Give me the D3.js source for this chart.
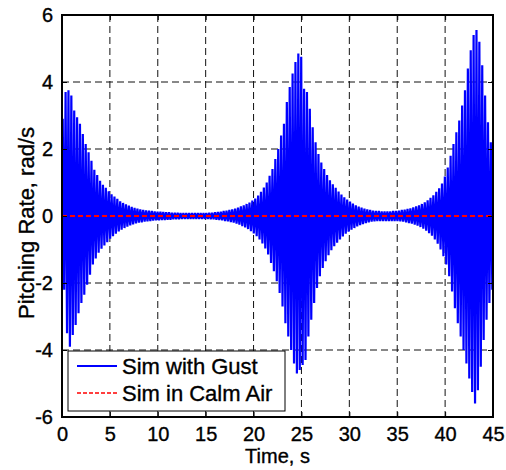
<!DOCTYPE html>
<html>
<head>
<meta charset="utf-8">
<script src="https://cdn.jsdelivr.net/npm/d3@7"></script>
<style>
  html, body { margin: 0; padding: 0; background: #fff; }
  svg { display: block; font-family: "Liberation Sans", Arial, sans-serif; }
  svg text { stroke: #000; stroke-width: 0.35px; }
</style>
</head>
<body>
<div id="chart"></div>
<script>
// ---------- Data ----------
const xTicks = [0, 5, 10, 15, 20, 25, 30, 35, 40, 45];
const yTicks = [-6, -4, -2, 0, 2, 4, 6];

// oscillation: one crest and one trough per cycle
const period = 0.3;          // s
const crestOffset = 0.075;   // s, within each cycle
const troughOffset = 0.225;  // s

const gustCrests = [
  2.9, 3.7, 3.75, 3.6, 3.15, 2.95, 2.75, 2.45, 2.15, 1.9,
  1.65, 1.38, 1.22, 1.05, 0.93, 0.84, 0.74, 0.65, 0.58, 0.51,
  0.44, 0.39, 0.35, 0.31, 0.27, 0.24, 0.22, 0.2, 0.18, 0.17,
  0.16, 0.15, 0.14, 0.13, 0.13, 0.12, 0.11, 0.11, 0.1, 0.1,
  0.1, 0.09, 0.09, 0.09, 0.09, 0.09, 0.09, 0.09, 0.09, 0.09,
  0.09, 0.1, 0.1, 0.11, 0.12, 0.13, 0.15, 0.16, 0.18, 0.2,
  0.22, 0.25, 0.29, 0.32, 0.36, 0.4, 0.46, 0.52, 0.61, 0.72,
  0.85, 1.0, 1.2, 1.4, 1.7, 2.0, 2.4, 2.75, 3.4, 3.85,
  4.25, 4.6, 4.85, 4.75, 3.8, 3.7, 3.2, 2.65, 2.2, 1.85,
  1.6, 1.4, 1.22, 1.07, 0.95, 0.84, 0.73, 0.64, 0.56, 0.49,
  0.43, 0.37, 0.32, 0.28, 0.25, 0.22, 0.2, 0.18, 0.16, 0.15,
  0.15, 0.14, 0.14, 0.14, 0.14, 0.15, 0.15, 0.16, 0.18, 0.19,
  0.21, 0.23, 0.26, 0.29, 0.32, 0.36, 0.41, 0.47, 0.54, 0.62,
  0.72, 0.83, 0.97, 1.18, 1.45, 1.8, 2.15, 2.5, 2.85, 3.3,
  3.75, 4.4, 4.95, 5.4, 5.55, 5.2, 4.5, 3.6, 2.8, 2.2,
  1.6
];

const gustTroughs = [
  -2.2, -3.5, -3.9, -3.55, -3.25, -2.9, -2.6, -2.35, -2.05, -1.75,
  -1.45, -1.27, -1.1, -0.98, -0.88, -0.78, -0.68, -0.6, -0.53, -0.46,
  -0.41, -0.36, -0.32, -0.28, -0.25, -0.22, -0.2, -0.19, -0.17, -0.16,
  -0.15, -0.14, -0.13, -0.13, -0.12, -0.12, -0.11, -0.11, -0.1, -0.1,
  -0.1, -0.09, -0.09, -0.09, -0.09, -0.09, -0.09, -0.09, -0.09, -0.09,
  -0.09, -0.1, -0.1, -0.11, -0.12, -0.13, -0.15, -0.16, -0.18, -0.2,
  -0.23, -0.26, -0.3, -0.34, -0.39, -0.45, -0.52, -0.6, -0.7, -0.82,
  -0.97, -1.15, -1.4, -1.65, -1.95, -2.3, -2.7, -3.2, -3.6, -4.0,
  -4.4, -4.7, -4.6, -4.45, -4.3, -3.6, -3.1, -2.6, -2.15, -1.8,
  -1.55, -1.35, -1.17, -1.02, -0.9, -0.8, -0.7, -0.61, -0.53, -0.47,
  -0.41, -0.36, -0.31, -0.27, -0.24, -0.21, -0.19, -0.17, -0.16, -0.15,
  -0.15, -0.15, -0.15, -0.15, -0.15, -0.15, -0.15, -0.16, -0.17, -0.19,
  -0.21, -0.23, -0.26, -0.29, -0.33, -0.38, -0.44, -0.51, -0.59, -0.7,
  -0.83, -1.0, -1.2, -1.45, -1.8, -2.25, -2.75, -3.2, -3.6, -4.0,
  -4.4, -4.85, -5.25, -5.6, -5.2, -4.5, -3.7, -3.1, -2.6, -2.2,
  -1.9
];

const calmTime = [0, 45];
const calmRate = [0, 0];

const seriesNames = ["Sim with Gust", "Sim in Calm Air"];

// ---------- Layout ----------
const W = 506, H = 470;
const m = { left: 62, top: 15, right: W - 493, bottom: H - 417 };
const iw = W - m.left - m.right;
const ih = H - m.top - m.bottom;

const svg = d3.select("#chart").append("svg")
  .attr("width", W).attr("height", H);

const x = d3.scaleLinear().domain([0, 45]).range([0, iw]);
const y = d3.scaleLinear().domain([-6, 6]).range([ih, 0]);

const g = svg.append("g").attr("transform", `translate(${m.left},${m.top})`);

g.append("clipPath").attr("id", "clip")
  .append("rect").attr("width", iw).attr("height", ih);

// grid
g.append("g")
  .selectAll("line")
  .data(xTicks.slice(1, -1))
  .enter().append("line")
  .attr("x1", (d) => x(d)).attr("x2", (d) => x(d))
  .attr("y1", 0).attr("y2", ih)
  .attr("stroke", "#111").attr("stroke-width", 1)
  .attr("stroke-dasharray", "7,4");

g.append("g")
  .selectAll("line")
  .data(yTicks.slice(1, -1))
  .enter().append("line")
  .attr("y1", (d) => y(d)).attr("y2", (d) => y(d))
  .attr("x1", 0).attr("x2", iw)
  .attr("stroke", "#111").attr("stroke-width", 1)
  .attr("stroke-dasharray", "7,4");

// gust response
const gustPts = [];
gustCrests.forEach((v, i) => {
  gustPts.push([i * period + crestOffset, v]);
  gustPts.push([i * period + troughOffset, gustTroughs[i]]);
});

const line = d3.line().x((d) => x(d[0])).y((d) => y(d[1]));

g.append("path")
  .datum(gustPts)
  .attr("clip-path", "url(#clip)")
  .attr("fill", "none")
  .attr("stroke", "#0000ff")
  .attr("stroke-width", 2.2)
  .attr("stroke-linejoin", "miter")
  .attr("d", line);

g.append("path")
  .datum(calmTime.map((t, i) => [t, calmRate[i]]))
  .attr("fill", "none")
  .attr("stroke", "#ff0000")
  .attr("stroke-width", 2)
  .attr("stroke-dasharray", "5,3")
  .attr("d", line);

// axes
const fmt = (d) => String(d);
const styleAxis = (sel) => {
  sel.select(".domain").remove();
  sel.selectAll(".tick line").attr("stroke", "#000").attr("stroke-width", 1);
  sel.selectAll(".tick text")
    .attr("fill", "#000")
    .attr("font-size", 20)
    .attr("font-family", "Liberation Sans, Arial, sans-serif");
};

g.append("g").attr("transform", `translate(0,${ih})`)
  .call(d3.axisBottom(x).tickValues(xTicks).tickFormat(fmt).tickSizeInner(-5).tickSizeOuter(0).tickPadding(10))
  .call(styleAxis);
g.append("g")
  .call(d3.axisTop(x).tickValues(xTicks).tickFormat("").tickSizeInner(-5).tickSizeOuter(0))
  .call(styleAxis);
g.append("g")
  .call(d3.axisLeft(y).tickValues(yTicks).tickFormat(fmt).tickSizeInner(-5).tickSizeOuter(0).tickPadding(9))
  .call(styleAxis);
g.append("g").attr("transform", `translate(${iw},0)`)
  .call(d3.axisRight(y).tickValues(yTicks).tickFormat("").tickSizeInner(-5).tickSizeOuter(0))
  .call(styleAxis);

// box
g.append("rect")
  .attr("width", iw).attr("height", ih)
  .attr("fill", "none").attr("stroke", "#000").attr("stroke-width", 2);

// axis labels
svg.append("text")
  .attr("x", m.left + iw / 2).attr("y", 463)
  .attr("text-anchor", "middle")
  .attr("font-size", 20)
  .text("Time, s");

svg.append("text")
  .attr("transform", "translate(34,223) rotate(-90)")
  .attr("text-anchor", "middle")
  .attr("font-size", 22)
  .text("Pitching Rate, rad/s");

// legend
const lg = svg.append("g").attr("transform", "translate(68,351)");
lg.append("rect")
  .attr("width", 217).attr("height", 60)
  .attr("fill", "#fff").attr("stroke", "#000").attr("stroke-width", 1);

const legendStyles = [
  { color: "#0000ff", dash: null, width: 2 },
  { color: "#ff0000", dash: "4,2", width: 1.5 }
];
seriesNames.forEach((name, i) => {
  const yy = 15 + i * 27;
  lg.append("line")
    .attr("x1", 9).attr("x2", 49).attr("y1", yy).attr("y2", yy)
    .attr("stroke", legendStyles[i].color)
    .attr("stroke-width", legendStyles[i].width)
    .attr("stroke-dasharray", legendStyles[i].dash);
  lg.append("text")
    .attr("x", 54).attr("y", yy + 8)
    .attr("font-size", 22)
    .text(name);
});
</script>
</body>
</html>
